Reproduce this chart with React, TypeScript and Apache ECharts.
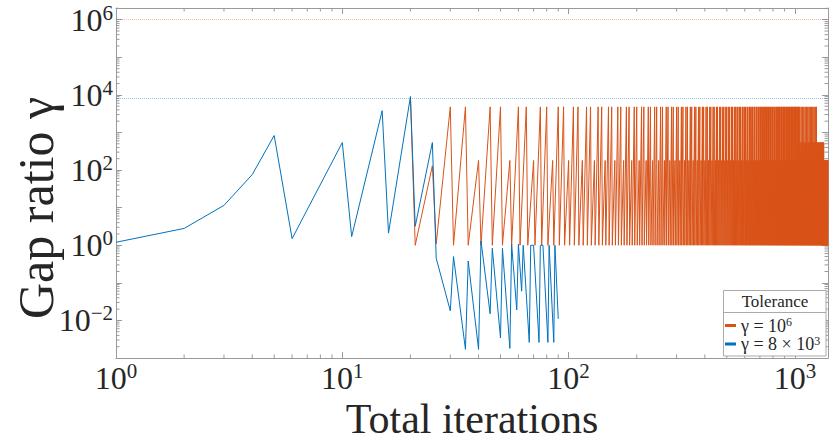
import React, { useEffect, useRef } from "react";
import * as echarts from "echarts";

// ---- data ----
// iterations where both tolerance runs coincide
const sharedIters = [1, 2, 3, 4, 5, 6, 10, 11, 15, 16, 20];
const sharedGap = [1.2, 2.8, 11.5, 76, 830, 1.5, 540, 1.7, 3800, 2.1, 9000];

// gamma = 8e3 run after the split
const blueIters = [21, 25, 26, 30, 31, 35, 36, 40, 41, 45, 46, 50, 51, 55, 56, 59, 60, 62, 63, 67, 68, 70, 74, 75, 77, 81, 82, 86, 87, 90];
const blueGap = [3.2, 540, 0.45, 0.018, 0.5, 0.0017, 0.38, 0.0017, 1.3, 0.015, 0.83, 0.0034, 0.83, 0.0018, 1.07, 0.019, 1.07, 0.06, 1.0, 0.0026, 1.0, 1.0, 0.0026, 1.0, 1.0, 0.0026, 1.0, 0.0026, 1.0, 0.011];

// gamma = 1e6 run after the split
const orangeEarlyIters = [21, 25, 26];
const orangeEarlyGap = [1.0, 130, 1.1];
// afterwards: a peak every 5 iterations, followed by a value near 1 on the next iteration
const orangeStep = 5;
const orangeTroughGap = 1.0;
const orangeSegStart = [30, 1045, 1260, 1345];
const orangeSegEnd = [1040, 1255, 1340, 1400];
const orangeSegPeaks = [
  [4800, 4800, 180],
  [4800, 540, 180],
  [540, 540, 180],
  [180, 180, 180],
];

const toleranceValues = [1e6, 8e3];
const seriesNames = ["tol1e6", "tol8e3"];

const xMin = 1;
const xMax = 1400;
const yMin = 1e-3;
const yMax = 2.05e6;
const minorMultipliers = [2, 3, 4, 5, 6, 7, 8, 9];
const xDecades = [1, 10, 100, 1000];
const yDecades = [1e-3, 1e-2, 1e-1, 1, 10, 100, 1e3, 1e4, 1e5, 1e6];

const ORANGE = "#D95319";
const BLUE = "#0072BD";
const AXIS_GREY = "#9a9a9a";
const TEXT = "#262626";
const FONT = '"Liberation Serif", "Times New Roman", serif';

function buildOrange(): number[][] {
  const out: number[][] = [];
  // the shared part lies under the blue run; start the orange run at the split point
  const last = sharedIters.length - 1;
  out.push([sharedIters[last], sharedGap[last]]);
  orangeEarlyIters.forEach((x, i) => out.push([x, orangeEarlyGap[i]]));
  orangeSegStart.forEach((s, si) => {
    for (let x = s; x <= orangeSegEnd[si]; x += orangeStep) {
      const idx = ((x - orangeSegStart[0]) / orangeStep) % 3;
      out.push([x, orangeSegPeaks[si][idx]]);
      if (x + 1 <= xMax) out.push([x + 1, orangeTroughGap]);
    }
  });
  return out;
}

function buildBlue(): number[][] {
  const out: number[][] = [];
  sharedIters.forEach((x, i) => out.push([x, sharedGap[i]]));
  blueIters.forEach((x, i) => out.push([x, blueGap[i]]));
  return out;
}

function minorTicks(decades: number[], lo: number, hi: number): number[] {
  const out: number[] = [];
  decades.forEach((d) => minorMultipliers.forEach((m) => {
    const v = d * m;
    if (v > lo && v < hi) out.push(v);
  }));
  return out;
}

function powLabel(v: number, onlyEven: boolean): string {
  const lg = Math.log10(v);
  const e = Math.round(lg);
  if (Math.abs(lg - e) > 1e-6) return "";
  if (onlyEven && e % 2 !== 0) return "";
  const es = e < 0 ? "\u2212" + -e : String(e);
  return `{b|10}{s|${es}}`;
}

const labelRich = {
  b: { fontSize: 32, fontFamily: FONT, color: TEXT },
  s: { fontSize: 21, fontFamily: FONT, color: TEXT, padding: [0, 0, 14, 0] },
};

export default function App() {
  const ref = useRef<HTMLDivElement>(null);
  useEffect(() => {
    if (!ref.current) return;
    const chart = echarts.init(ref.current, undefined, { renderer: "svg" });
    const xMinor = minorTicks(xDecades, xMin, xMax);
    const yMinor = minorTicks(yDecades, yMin, yMax);

    const baseAxis = {
      type: "log" as const,
      logBase: 10,
      splitNumber: 10,
      splitLine: { show: false },
      axisLine: { show: true, lineStyle: { color: AXIS_GREY, width: 1 } },
      axisTick: { show: true, inside: true, length: 6, lineStyle: { color: AXIS_GREY, width: 1 } },
    };

    chart.setOption({
      animation: false,
      grid: { left: 116, top: 8, right: 2, bottom: 83, containLabel: false, outerBoundsMode: "none" },
      xAxis: [
        {
          ...baseAxis,
          min: xMin,
          max: xMax,
          position: "bottom",
          name: "Total iterations",
          nameLocation: "middle",
          nameGap: 46,
          nameTextStyle: { fontSize: 42, lineHeight: 28, fontFamily: FONT, color: TEXT },
          axisLabel: {
            margin: 2,
            formatter: (v: number) => powLabel(v, false),
            rich: labelRich,
          },
        },
        {
          ...baseAxis,
          min: xMin,
          max: xMax,
          position: "top",
          axisLabel: { show: false },
        },
      ],
      yAxis: [
        {
          ...baseAxis,
          min: yMin,
          max: yMax,
          position: "left",
          name: "Gap ratio \u03b3",
          nameLocation: "middle",
          nameMoveOverlap: false,
          nameGap: 60,
          nameTextStyle: {
            fontSize: 50,
            lineHeight: 40,
            fontFamily: FONT,
            color: TEXT,
            padding: [0, 50, 0, 0],
          },
          axisLabel: {
            margin: 3,
            formatter: (v: number) => powLabel(v, true),
            rich: labelRich,
          },
        },
        {
          ...baseAxis,
          min: yMin,
          max: yMax,
          position: "right",
          axisLabel: { show: false },
        },
      ],
      legend: {
        data: seriesNames,
        orient: "vertical",
        left: 725,
        top: 316,
        padding: 0,
        itemGap: 0,
        itemWidth: 11,
        itemHeight: 3,
        icon: "rect",
        z: 10,
        selectedMode: false,
        formatter: (name: string) =>
          name === seriesNames[0]
            ? "\u03b3 = 10{s|6}"
            : "\u03b3 = 8 \u00d7 10{s|3}",
        textStyle: {
          fontSize: 18,
          fontFamily: FONT,
          color: TEXT,
          rich: {
            s: { fontSize: 12, fontFamily: FONT, color: TEXT, padding: [0, 0, 7, 0] },
          },
        },
      },
      graphic: [
        {
          type: "rect",
          z: 5,
          shape: { x: 723.5, y: 290.5, width: 102.5, height: 65.5 },
          style: { fill: "#ffffff", stroke: "#aaaaaa", lineWidth: 1 },
        },
        {
          type: "line",
          z: 6,
          shape: { x1: 723.5, y1: 312.5, x2: 826, y2: 312.5 },
          style: { stroke: "#aaaaaa", lineWidth: 1 },
        },
        {
          type: "text",
          z: 6,
          x: 775,
          y: 301,
          style: {
            text: "Tolerance",
            fontSize: 17,
            fontFamily: FONT,
            fill: TEXT,
            align: "center",
            verticalAlign: "middle",
          },
        },
      ],
      series: [
        {
          type: "line",
          name: seriesNames[0],
          data: buildOrange(),
          showSymbol: false,
          symbol: "none",
          lineStyle: { color: ORANGE, width: 1 },
          itemStyle: { color: ORANGE },
          emphasis: { disabled: true },
          z: 2,
          markLine: {
            silent: true,
            symbol: "none",
            label: { show: false },
            lineStyle: { color: ORANGE, type: "dotted", width: 1, opacity: 0.4 },
            data: [{ yAxis: toleranceValues[0] }],
          },
        },
        {
          type: "line",
          name: seriesNames[1],
          data: buildBlue(),
          showSymbol: false,
          symbol: "none",
          lineStyle: { color: BLUE, width: 1 },
          itemStyle: { color: BLUE },
          emphasis: { disabled: true },
          z: 3,
          markLine: {
            silent: true,
            symbol: "none",
            label: { show: false },
            lineStyle: { color: BLUE, type: "dotted", width: 1, opacity: 0.4 },
            data: [{ yAxis: toleranceValues[1] }],
          },
        },
        {
          type: "custom",
          name: "xMinorTicks",
          silent: true,
          data: xMinor.map((v) => [v, yMin]),
          encode: { x: 0, y: 1 },
          z: 1,
          renderItem: (_p: any, api: any) => {
            const v = api.value(0);
            const b = api.coord([v, yMin]);
            const t = api.coord([v, yMax]);
            return {
              type: "group",
              children: [
                { type: "line", shape: { x1: b[0], y1: b[1], x2: b[0], y2: b[1] - 3.5 }, style: { stroke: AXIS_GREY, lineWidth: 1 } },
                { type: "line", shape: { x1: t[0], y1: t[1], x2: t[0], y2: t[1] + 3.5 }, style: { stroke: AXIS_GREY, lineWidth: 1 } },
              ],
            };
          },
        },
        {
          type: "custom",
          name: "yMinorTicks",
          silent: true,
          data: yMinor.map((v) => [xMin, v]),
          encode: { x: 0, y: 1 },
          z: 1,
          renderItem: (_p: any, api: any) => {
            const v = api.value(1);
            const l = api.coord([xMin, v]);
            const r = api.coord([xMax, v]);
            return {
              type: "group",
              children: [
                { type: "line", shape: { x1: l[0], y1: l[1], x2: l[0] + 3.5, y2: l[1] }, style: { stroke: AXIS_GREY, lineWidth: 1 } },
                { type: "line", shape: { x1: r[0], y1: r[1], x2: r[0] - 3.5, y2: r[1] }, style: { stroke: AXIS_GREY, lineWidth: 1 } },
              ],
            };
          },
        },
      ],
    });
    return () => chart.dispose();
  }, []);
  return (
    <div
      ref={ref}
      style={{ position: "absolute", left: 0, top: 0, width: 830, height: 441, background: "#ffffff" }}
    />
  );
}
